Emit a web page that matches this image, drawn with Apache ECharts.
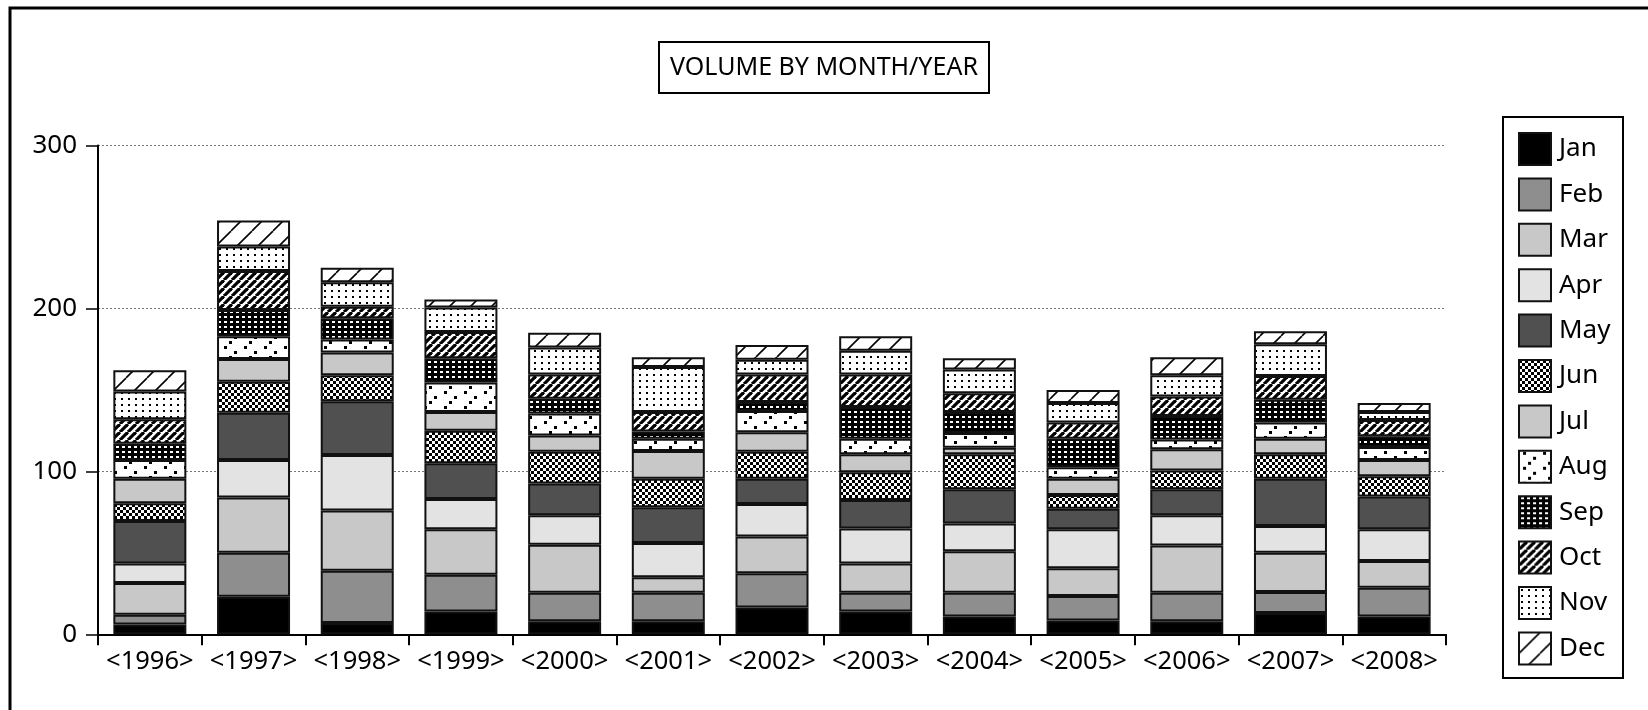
<!DOCTYPE html>
<html>
<head>
<meta charset="utf-8">
<script src="https://cdn.jsdelivr.net/npm/echarts@6/dist/echarts.min.js"></script>
<style>
html,body{margin:0;padding:0;background:#fff;}
#chart{width:1648px;height:710px;}
</style>
</head>
<body>
<div id="chart"></div>
<script>
// ---- data ----
const years = ['<1996>','<1997>','<1998>','<1999>','<2000>','<2001>','<2002>','<2003>','<2004>','<2005>','<2006>','<2007>','<2008>'];
const months = ['Jan','Feb','Mar','Apr','May','Jun','Jul','Aug','Sep','Oct','Nov','Dec'];
const jan = [6,23,7,14,8,8,16.5,14,11,8.5,8,13,11];
const feb = [6,27,32,22.5,17.5,17.5,21,11.5,14.5,15,17.5,13,17.5];
const mar = [19.5,34,37,28,29.5,9.5,22.5,18,25.5,17,29,24,16.5];
const apr = [12,23,34,18.5,18,21,20,21.5,17,24,18.5,16.5,19.5];
const may = [26,29,33,22,19.5,22,15.5,17.5,21,12.5,16,29,20];
const jun = [11,19,16,20,19.5,17.5,16.5,17,21.5,8.5,11.5,15,12.5];
const jul = [15,14,14,11.5,10,17,12,11,4,10,13,9.5,10];
const aug = [11.5,14,8,18,13.5,7.5,13,9.5,9,7,6,10,8];
const sep = [10,16,13,15,9,4.5,5.5,19.5,13,17.5,14.5,14,6.5];
const oct = [15,24,7,16,15,12,17,20,11.5,10,12,14.5,10];
const nov = [17,15,15,15,16.5,27.5,9,14.5,14.5,12,13,19.5,5];
const dec = [13,16,9,5,9,6,9,9,7,8,11,8,5.5];
const yTicks = [0,100,200,300];

// ---- patterns ----
function tile(w, h, draw) {
  const c = document.createElement('canvas');
  c.width = w; c.height = h;
  const g = c.getContext('2d');
  g.fillStyle = '#fff'; g.fillRect(0, 0, w, h);
  g.fillStyle = '#000'; g.strokeStyle = '#000';
  draw(g, w, h);
  return { image: c, repeat: 'repeat' };
}
function diag(g, w, h, lw) {
  g.lineWidth = lw;
  for (let k = -1; k <= 1; k++) {
    g.beginPath();
    g.moveTo(k * w, h);
    g.lineTo(k * w + w, 0);
    g.stroke();
  }
}
const patJun = tile(6, 6, g => { g.fillRect(0,0,3,3); g.fillRect(3,3,3,3); });
const patAug = tile(20, 15, g => { g.fillRect(4,1,3,3); g.fillRect(14,6,3,3); g.fillRect(9,11,3,3); });
const patSep = tile(6, 5, g => { g.fillRect(0,0,6,5); g.fillStyle='#fff'; g.fillRect(2,1,3,2); });
const patOct = tile(8, 8, g => diag(g, 8, 8, 3.2));
const patNov = tile(7, 6, g => { g.fillRect(2,2,2,2); });
const patDec = tile(21, 21, g => diag(g, 21, 21, 1.6));

const fills = ['#000000','#8e8e8e','#c8c8c8','#e3e3e3','#505050',patJun,'#c8c8c8',patAug,patSep,patOct,patNov,patDec];
const values = [jan,feb,mar,apr,may,jun,jul,aug,sep,oct,nov,dec];

const FONT = 'Noto Sans';

const series = months.map((m, i) => ({
  name: m,
  type: 'bar',
  stack: 'total',
  barWidth: 73,
  data: values[i],
  itemStyle: { color: fills[i], borderColor: '#111', borderWidth: 2 }
}));

const chart = echarts.init(document.getElementById('chart'), null, { renderer: 'canvas' });
chart.setOption({
  animation: false,
  backgroundColor: '#fff',
  title: {
    text: 'VOLUME BY MONTH/YEAR',
    left: 'center',
    top: 42,
    padding: [13, 11],
    borderColor: '#000',
    borderWidth: 2,
    textStyle: { fontFamily: FONT, fontSize: 25, fontWeight: 'normal', color: '#000' }
  },
  legend: {
    orient: 'vertical',
    left: 1518,
    top: 132,
    itemWidth: 32,
    itemHeight: 32,
    itemGap: 11.4,
    icon: 'rect',
    padding: 0,
    textStyle: { fontFamily: FONT, fontSize: 26, lineHeight: 24, color: '#000', padding: [8,0,0,3] },
    data: months
  },
  grid: { left: 98, right: 202, top: 145.5, bottom: 75.7, containLabel: false },
  xAxis: {
    type: 'category',
    data: years,
    boundaryGap: true,
    axisLine: { lineStyle: { color: '#000', width: 2 } },
    axisTick: { show: true, length: 11, lineStyle: { color: '#000', width: 2 } },
    axisLabel: { fontFamily: FONT, fontSize: 25.5, color: '#000', margin: 14, interval: 0 }
  },
  yAxis: {
    type: 'value',
    min: 0, max: 300, interval: 100,
    axisLine: { show: true, lineStyle: { color: '#000', width: 2 } },
    axisTick: { show: true, length: 12, lineStyle: { color: '#000', width: 1.5 } },
    axisLabel: {
      fontFamily: FONT, fontSize: 26, color: '#000', margin: 21,
      formatter: v => (yTicks.indexOf(v) >= 0 ? String(v) : '')
    },
    splitLine: { show: true, lineStyle: { color: '#777', width: 1, type: [2, 2] } }
  },
  graphic: [
    { type: 'rect', shape: { x: 10, y: 8, width: 1800, height: 900 },
      style: { fill: 'none', stroke: '#000', lineWidth: 3 }, silent: true, z: 100 },
    { type: 'rect', shape: { x: 1503, y: 117, width: 120, height: 561 },
      style: { fill: 'none', stroke: '#000', lineWidth: 2 }, silent: true, z: 100 }
  ],
  series: series
});
</script>
</body>
</html>
